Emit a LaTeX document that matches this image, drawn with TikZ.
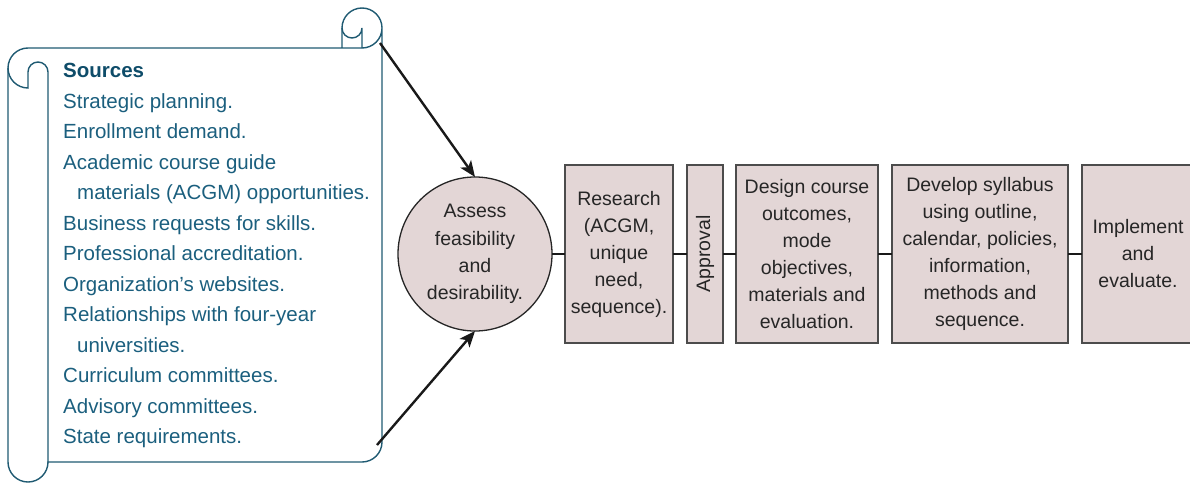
\documentclass[tikz,border=0pt]{standalone}
\usepackage{fontspec}
\setmainfont{Liberation Sans}
\usepackage{tikz}
\usetikzlibrary{positioning,arrows.meta}
\definecolor{srcteal}{HTML}{1B5F7E}
\definecolor{srcdark}{HTML}{0E4C69}
\definecolor{rolo}{HTML}{1F5A72}
\definecolor{rosa}{HTML}{E3D6D6}
\definecolor{tinta}{HTML}{262626}
\tikzstyle{etapa} = [rectangle, minimum height=178pt, inner sep=0pt, outer sep=0pt, text centered, align=center, draw=black!70, line width=1.6pt, fill=rosa, text=tinta, font=\fontsize{19.5}{27}\selectfont]
\tikzstyle{avaliar} = [circle, minimum size=154pt, inner sep=0pt, outer sep=0pt, align=center, draw=black!85, line width=1.3pt, fill=rosa, text=tinta, font=\fontsize{19.5}{27.3}\selectfont]
\tikzstyle{seta} = [line width=2.4pt, draw=black!90, -{Stealth[length=16pt,width=13pt,inset=4pt]}]
\tikzstyle{liga} = [line width=2.8pt, draw=black!90]
\tikzstyle{papel} = [draw=rolo, line width=1.4pt]

\begin{document}
\begin{tikzpicture}[x=1pt,y=-1pt]
        \useasboundingbox (0,0) rectangle (1190,482);
        % Rolo de papel com as fontes
        \draw [papel] (382,28) -- (382,442) arc[start angle=0,end angle=90,radius=20]
            -- (48,462) arc[start angle=0,end angle=180,radius=20]
            -- (8,68) arc[start angle=180,end angle=270,radius=20]
            -- (362,48) arc[start angle=90,end angle=-180,radius=20] -- (342,48);
        \draw [papel] (48,462) -- (48,72) arc[start angle=0,end angle=-180,radius=10]
            -- (28,88) arc[start angle=90,end angle=180,radius=20];
        \draw [papel] (342,28) arc[start angle=180,end angle=0,radius=10] -- (362,48);
        \node (sources) [anchor=north west, inner sep=0pt, align=left, text=srcteal, font=\fontsize{20.5}{30.5}\selectfont] at (63,63)
            {{\color{srcdark}\bfseries Sources}\\
             Strategic planning.\\
             Enrollment demand.\\
             Academic course guide\\
             \hspace*{14pt}materials (ACGM) opportunities.\\
             Business requests for skills.\\
             Professional accreditation.\\
             Organization’s websites.\\
             Relationships with four-year\\
             \hspace*{14pt}universities.\\
             Curriculum committees.\\
             Advisory committees.\\
             State requirements.};
        \coordinate (rolotopo) at (380,43);
        \coordinate (rolobase) at (377,445);
        % Etapas
        \node (assess) [avaliar] at (475,254) {Assess\\feasibility\\and\\desirability.};
        \node (research) [etapa, minimum width=108pt, right=13pt of assess] {Research\\(ACGM,\\unique\\need,\\sequence).};
        \node (approval) [etapa, minimum width=36pt, right=14pt of research] {\rotatebox{90}{Approval}};
        \node (design) [etapa, minimum width=142pt, right=13pt of approval] {Design course\\outcomes,\\mode\\objectives,\\materials and\\evaluation.};
        \node (develop) [etapa, minimum width=176pt, right=14pt of design] {Develop syllabus\\using outline,\\calendar, policies,\\information,\\methods and\\sequence.};
        \node (implement) [etapa, minimum width=112pt, right=14pt of develop] {Implement\\and\\evaluate.};
        % Conexoes
        \draw [seta] (rolotopo) -- (assess.north);
        \draw [seta] (rolobase) -- (assess.south);
        \draw [liga] (assess) -- (research);
        \draw [liga] (research) -- (approval);
        \draw [liga] (approval) -- (design);
        \draw [liga] (design) -- (develop);
        \draw [liga] (develop) -- (implement);
    \end{tikzpicture}
\end{document}
